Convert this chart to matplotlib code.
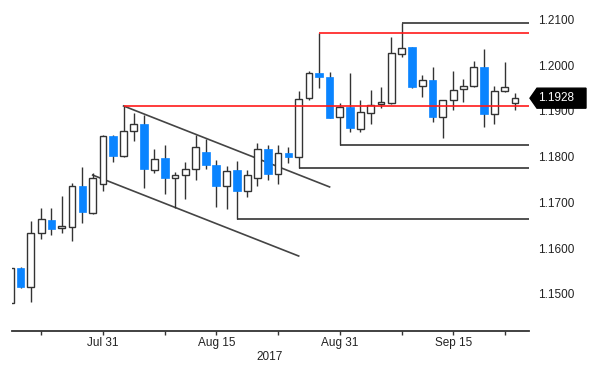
import matplotlib
matplotlib.use("Agg")
import matplotlib.pyplot as plt
from matplotlib.patches import Polygon
import numpy as np

plt.rcParams['font.family'] = ['Liberation Sans', 'DejaVu Sans']

dates = ['Jul 18', 'Jul 19', 'Jul 20', 'Jul 21', 'Jul 24', 'Jul 25', 'Jul 26', 'Jul 27', 'Jul 28', 'Jul 31',
         'Aug 1', 'Aug 2', 'Aug 3', 'Aug 4', 'Aug 7', 'Aug 8', 'Aug 9', 'Aug 10', 'Aug 11', 'Aug 14',
         'Aug 15', 'Aug 16', 'Aug 17', 'Aug 18', 'Aug 21', 'Aug 22', 'Aug 23', 'Aug 24', 'Aug 25', 'Aug 28',
         'Aug 29', 'Aug 30', 'Aug 31', 'Sep 1', 'Sep 4', 'Sep 5', 'Sep 6', 'Sep 7', 'Sep 8', 'Sep 11',
         'Sep 12', 'Sep 13', 'Sep 14', 'Sep 15', 'Sep 18', 'Sep 19', 'Sep 20', 'Sep 21', 'Sep 22', 'Sep 25']

opens = [1.1480, 1.1556, 1.1515, 1.1633, 1.1662, 1.1644, 1.1647, 1.1737, 1.1678, 1.1740,
         1.1845, 1.1802, 1.1857, 1.1871, 1.1771, 1.1797, 1.1753, 1.1760, 1.1774, 1.1810,
         1.1783, 1.1736, 1.1770, 1.1726, 1.1754, 1.1816, 1.1762, 1.1809, 1.1800, 1.1928,
         1.1982, 1.1975, 1.1886, 1.1909, 1.1860, 1.1896, 1.1915, 1.1918, 1.2024, 1.2039,
         1.1955, 1.1968, 1.1886, 1.1923, 1.1947, 1.1955, 1.1997, 1.1893, 1.1944, 1.1918]
highs = [1.1560, 1.1558, 1.1660, 1.1687, 1.1687, 1.1714, 1.1742, 1.1778, 1.1764, 1.1847,
         1.1847, 1.1911, 1.1895, 1.1891, 1.1816, 1.1826, 1.1767, 1.1789, 1.1848, 1.1838,
         1.1793, 1.1780, 1.1791, 1.1771, 1.1830, 1.1826, 1.1825, 1.1822, 1.1944, 1.1987,
         1.2070, 1.1986, 1.1918, 1.1982, 1.1924, 1.1946, 1.1953, 1.2061, 1.2093, 1.2040,
         1.1979, 1.1997, 1.1924, 1.1988, 1.1971, 1.2009, 1.2035, 1.1955, 1.2006, 1.1940]
lows = [1.1478, 1.1513, 1.1483, 1.1621, 1.1629, 1.1634, 1.1616, 1.1655, 1.1675, 1.1726,
        1.1789, 1.1800, 1.1835, 1.1731, 1.1765, 1.1718, 1.1687, 1.1707, 1.1750, 1.1773,
        1.1690, 1.1686, 1.1664, 1.1711, 1.1736, 1.1749, 1.1740, 1.1786, 1.1775, 1.1923,
        1.1950, 1.1884, 1.1825, 1.1853, 1.1855, 1.1871, 1.1906, 1.1916, 1.2017, 1.1951,
        1.1930, 1.1877, 1.1842, 1.1903, 1.1919, 1.1953, 1.1866, 1.1871, 1.1942, 1.1902]
closes = [1.1557, 1.1515, 1.1633, 1.1663, 1.1643, 1.1649, 1.1737, 1.1679, 1.1753, 1.1845,
          1.1802, 1.1857, 1.1871, 1.1773, 1.1795, 1.1753, 1.1761, 1.1773, 1.1822, 1.1782,
          1.1736, 1.1769, 1.1725, 1.1761, 1.1816, 1.1763, 1.1809, 1.1799, 1.1926, 1.1982,
          1.1974, 1.1885, 1.1909, 1.1862, 1.1898, 1.1913, 1.1920, 1.2026, 1.2037, 1.1953,
          1.1968, 1.1886, 1.1923, 1.1946, 1.1955, 1.1997, 1.1893, 1.1944, 1.1952, 1.1928]

# horizontal levels: (start date, price)
red_levels = [('Aug 2', 1.1911), ('Aug 29', 1.2070)]
black_levels = [('Sep 8', 1.2093), ('Aug 31', 1.1825), ('Aug 25', 1.1775), ('Aug 17', 1.1664)]
# channel lines: (date, price) pairs
channel_upper = [('Aug 2', 1.1911), ('Aug 30', 1.1734)]
channel_lower = [('Jul 28', 1.1760), ('Aug 25', 1.1583)]

last_price = 1.1928
ytick_vals = [1.15, 1.16, 1.17, 1.18, 1.19, 1.20, 1.21]
major_tick_dates = ['Jul 31', 'Aug 15', 'Aug 31', 'Sep 15']
minor_tick_dates = ['Jul 21', 'Aug 8', 'Aug 23', 'Sep 8', 'Sep 22']
year_label = '2017'

BLUE = '#0A84FF'
DARK = '#333333'
RED = '#FF1A1A'
FS = 8.5

pos = {d: i for i, d in enumerate(dates)}
x = np.arange(len(dates))
o = np.array(opens); h = np.array(highs); l = np.array(lows); c = np.array(closes)
up = c >= o

fig = plt.figure(figsize=(6.0, 3.77), dpi=100)
ax = fig.add_axes([12/600, 1 - 331/377, 517/600, 331/377])

xmin, xmax = 0.17, 50.36
ax.set_xlim(xmin, xmax)
ax.set_ylim(1.14191, 1.21426)

# wicks
ax.vlines(x, l, h, color=DARK, lw=1.0, zorder=2)
# bodies
bw = 0.66
body_h = np.maximum(np.abs(c - o), 0.00006)
body_b = np.minimum(o, c)
ax.bar(x[up], body_h[up], bottom=body_b[up], width=bw, facecolor='white',
       edgecolor=DARK, linewidth=1.0, zorder=3)
ax.bar(x[~up], body_h[~up], bottom=body_b[~up], width=bw + 0.08, facecolor=BLUE,
       edgecolor=BLUE, linewidth=0.5, zorder=3)

# levels
for d, v in red_levels:
    ax.hlines(v, pos[d], xmax, color=RED, lw=1.2, zorder=4)
for d, v in black_levels:
    ax.hlines(v, pos[d], xmax, color=DARK, lw=1.2, zorder=1.5)

for line in (channel_upper, channel_lower):
    xs = [pos[d] for d, _ in line]
    ys = [v for _, v in line]
    ax.plot(xs, ys, color='#444444', lw=1.2, zorder=1.8)

# axes styling
for s in ['left', 'top', 'right']:
    ax.spines[s].set_visible(False)
ax.spines['bottom'].set_color(DARK)
ax.spines['bottom'].set_linewidth(1.3)

ax.yaxis.tick_right()
ax.set_yticks(ytick_vals)
ax.set_yticklabels([f'{v:.4f}' for v in ytick_vals])
ax.tick_params(axis='y', length=0, pad=6.5, labelsize=FS, labelcolor='#222222')

ax.set_xticks([pos[d] for d in major_tick_dates])
ax.set_xticklabels(major_tick_dates)
ax.set_xticks([pos[d] for d in minor_tick_dates], minor=True)
ax.tick_params(axis='x', which='both', direction='out', length=2.6, width=1.0,
               color=DARK, pad=1.8, labelsize=FS, labelcolor='#222222')

fig.text(270/600, 1 - 357/377, year_label, ha='center', va='center', fontsize=FS, color='#222222')

# last price tag
tr = ax.get_yaxis_transform()
ax_w = 517.0
def axx(px):
    return (px - 12) / ax_w
hh = 10 / 4575.0
tag = Polygon([(axx(530), last_price), (axx(537), last_price + hh), (axx(586), last_price + hh),
               (axx(586), last_price - hh), (axx(537), last_price - hh)],
              closed=True, transform=tr, facecolor='black', edgecolor='black',
              clip_on=False, zorder=10)
ax.add_patch(tag)
ax.text(axx(538), last_price, f'{last_price:.4f}', transform=tr, ha='left', va='center',
        color='white', fontsize=FS, zorder=11, clip_on=False)

fig.savefig('out.png', dpi=100, facecolor='white')
